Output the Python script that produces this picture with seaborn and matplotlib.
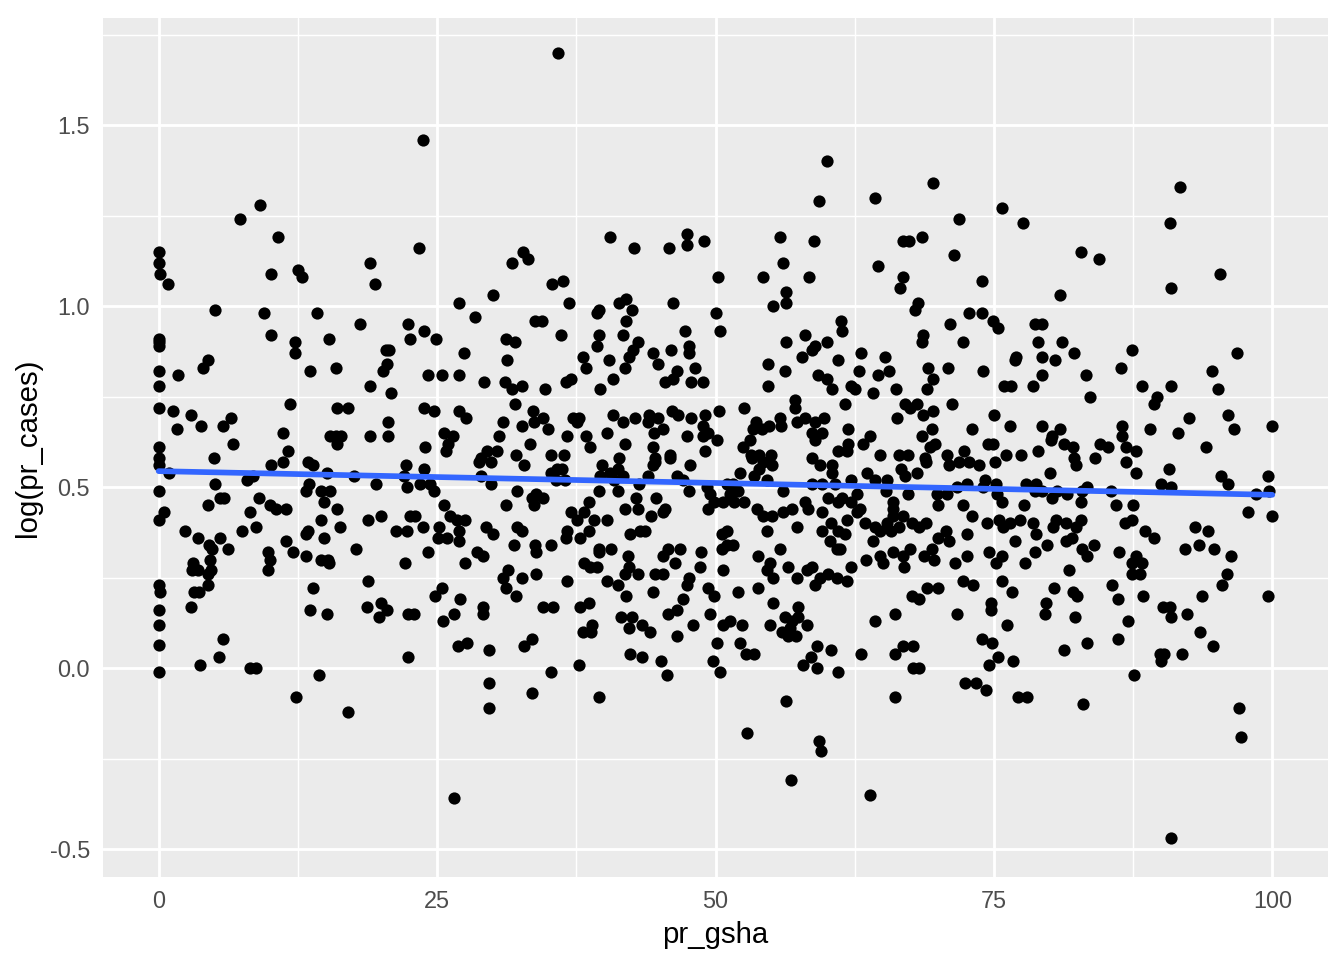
import numpy as np
import matplotlib
matplotlib.use("Agg")
import matplotlib.pyplot as plt
import seaborn as sns
from matplotlib.ticker import MultipleLocator

# (pr_gsha, log(pr_cases)) pairs, grouped by region
pts_a = [(0,1.15),(0,1.12),(0.1,1.09),(0.8,1.06),(5.1,0.99),(7.3,1.24),(9.1,1.28),(10.7,1.19),(10.1,1.09),(12.5,1.10),
         (12.9,1.08),(19.0,1.12),(19.4,1.06),(9.5,0.98),(10.1,0.92),(14.2,0.98),(18.1,0.95),(15.3,0.91),(12.2,0.90),(12.2,0.87),
         (0,0.91),(0,0.90),(0,0.89),(4.4,0.85),(4.0,0.83),(0,0.82),(1.7,0.81),(0,0.78),(13.6,0.82),(15.9,0.83),
         (20.7,0.88),(20.4,0.88),(20.5,0.84),(20.1,0.82),(19.0,0.78),(20.9,0.76),(22.4,0.95),(22.6,0.91),(11.8,0.73),(16.0,0.72),
         (17.0,0.72),(0,0.72),(1.3,0.71),(2.9,0.70),(1.6,0.66),(3.8,0.67),(5.8,0.67),(6.5,0.69),(20.6,0.68),(11.2,0.65),
         (15.4,0.64),(15.9,0.64),(16.4,0.64),(16.0,0.62),(19.0,0.64),(20.6,0.64),(0,0.61),(6.7,0.62),(11.6,0.60)]
pts_b = [(5.0,0.58),(0,0.58),(0,0.56),(0.9,0.54),(11.2,0.57),(10.1,0.56),(13.4,0.57),(13.9,0.56),(15.1,0.54),(17.5,0.53),
         (19.5,0.51),(22.2,0.56),(22.0,0.53),(22.3,0.50),(5.1,0.51),(7.9,0.52),(8.5,0.53),(0,0.49),(13.2,0.49),(13.5,0.51),
         (14.6,0.49),(15.4,0.49),(5.5,0.47),(5.9,0.47),(9.0,0.47),(4.4,0.45),(10.0,0.45),(10.5,0.44),(11.4,0.44),(14.8,0.46),
         (16.0,0.44),(8.2,0.43),(0,0.41),(0.5,0.43),(18.8,0.41),(20.0,0.42),(22.6,0.42),(14.6,0.41),(16.3,0.39),(2.4,0.38),
         (8.7,0.39),(7.5,0.38),(13.2,0.37),(13.4,0.38),(14.8,0.36),(21.3,0.38),(22.3,0.38),(3.5,0.36),(5.5,0.36),(4.5,0.34),
         (4.8,0.33),(6.2,0.33),(11.4,0.35),(12.1,0.32),(13.2,0.31),(17.7,0.33),(9.8,0.32),(10.0,0.30),(9.8,0.27),(14.6,0.30),
         (15.2,0.30),(15.3,0.29),(22.1,0.29),(3.1,0.29),(4.6,0.30),(3.0,0.27),(3.5,0.27),(4.7,0.27),(4.4,0.26),(4.4,0.23),
         (0,0.23),(0.1,0.21),(3.2,0.21),(3.6,0.21),(18.8,0.24),(13.9,0.22),(2.9,0.17),(13.6,0.16),(15.1,0.15),(18.7,0.17),
         (20.0,0.18),(20.5,0.16),(19.8,0.14),(22.4,0.15),(0,0.16),(0,0.12),(0,0.065),(5.8,0.08),(5.4,0.03),(3.7,0.01),
         (8.2,0.0),(8.7,0.0),(0,-0.01),(22.4,0.03),(14.4,-0.02),(12.3,-0.08),(17.0,-0.12)]
pts_c = [(35.9,1.70),(23.7,1.46),(23.4,1.16),(31.7,1.12),(32.7,1.15),(33.2,1.13),(35.3,1.06),(36.3,1.07),(40.5,1.19),(42.7,1.16),
         (45.8,1.16),(47.4,1.20),(47.4,1.17),(49.0,1.18),(50.2,1.08),(27.0,1.01),(30.0,1.03),(28.4,0.97),(36.8,1.01),(33.8,0.96),
         (34.4,0.96),(39.5,0.99),(39.4,0.98),(41.3,1.01),(42.0,1.02),(42.5,0.99),(42.0,0.96),(41.7,0.92),(46.2,1.01),(50.0,0.98),
         (50.4,0.93),(23.8,0.93),(24.9,0.91),(36.1,0.92),(31.2,0.91),(32.0,0.90),(39.5,0.92),(39.4,0.89),(27.4,0.87),(31.3,0.85),
         (38.1,0.86),(38.4,0.83),(40.4,0.85),(43.0,0.90),(42.6,0.88),(42.2,0.86),(41.9,0.83),(44.4,0.87),(44.8,0.84),(46.0,0.88),
         (47.6,0.89),(47.6,0.87),(48.2,0.83),(47.3,0.93),(24.2,0.81),(25.4,0.81),(27.0,0.81),(29.2,0.79),(31.1,0.79),(31.7,0.77),
         (32.6,0.78),(32.0,0.73),(34.7,0.77),(36.6,0.79),(37.0,0.80),(39.6,0.77),(40.8,0.80),(45.5,0.79),(46.5,0.82),(46.2,0.80),
         (47.8,0.79),(48.9,0.79),(23.8,0.72),(24.7,0.71),(27.0,0.71),(27.6,0.69),(30.9,0.68),(30.6,0.64),(32.6,0.67),(33.6,0.71),
         (33.7,0.68),(34.5,0.69),(35.0,0.66),(37.2,0.69),(37.7,0.69),(37.6,0.68),(36.7,0.64),(38.4,0.64),(38.7,0.61),(40.3,0.65),
         (40.8,0.70),(41.7,0.68),(42.8,0.69),(44.0,0.70),(43.9,0.68),(44.8,0.69),(44.5,0.65),(45.3,0.66),(46.1,0.71),(46.6,0.70),
         (47.8,0.69),(49.1,0.70),(48.9,0.67),(48.9,0.64),(49.3,0.65),(50.3,0.71),(50.1,0.63),(25.6,0.65),(26.4,0.64),(26.0,0.62),
         (25.8,0.60),(23.9,0.61),(29.5,0.60),(28.9,0.58),(30.4,0.60),(32.1,0.59),(33.3,0.62),(35.2,0.59),(36.4,0.59),(41.9,0.62),
         (44.4,0.61),(44.6,0.58),(47.4,0.64),(49.1,0.60),(45.9,0.59),(41.3,0.58)]
pts_d = [(28.8,0.57),(29.8,0.57),(32.8,0.56),(35.2,0.54),(35.8,0.55),(36.2,0.55),(35.7,0.52),(36.5,0.52),(39.8,0.56),(39.6,0.53),
         (40.5,0.54),(40.9,0.52),(41.2,0.55),(41.7,0.53),(39.5,0.49),(38.6,0.46),(41.2,0.49),(44.6,0.57),(44.4,0.56),(43.9,0.53),
         (43.1,0.51),(42.9,0.47),(41.9,0.44),(43.0,0.44),(44.7,0.47),(44.2,0.42),(45.3,0.43),(45.5,0.44),(45.9,0.58),(46.5,0.53),
         (47.1,0.52),(47.7,0.56),(47.6,0.49),(49.2,0.50),(49.5,0.48),(49.3,0.44),(49.9,0.46),(28.9,0.53),(29.8,0.51),(32.2,0.49),
         (31.2,0.45),(33.5,0.47),(33.9,0.48),(34.5,0.47),(33.7,0.45),(37.0,0.43),(37.6,0.41),(38.2,0.43),(39.1,0.41),(40.3,0.41),
         (36.7,0.38),(36.6,0.36),(37.8,0.36),(38.6,0.38),(42.3,0.37),(43.2,0.38),(43.7,0.38),(39.5,0.33),(39.5,0.32),(40.6,0.33),
         (42.1,0.31),(42.2,0.28),(41.9,0.26),(43.0,0.26),(38.2,0.29),(38.7,0.28),(39.4,0.28),(45.3,0.31),(45.7,0.33),(46.8,0.33),
         (46.4,0.29),(45.3,0.26),(44.6,0.26),(48.7,0.32),(48.6,0.28),(47.6,0.25),(47.4,0.23),(40.3,0.24),(41.2,0.23),(42.0,0.20),
         (44.4,0.21),(49.3,0.22),(49.9,0.20),(49.5,0.15),(47.1,0.19),(46.5,0.16),(45.7,0.15),(41.5,0.14),(42.5,0.14),(42.2,0.11),
         (43.4,0.12),(44.1,0.10),(48.0,0.12),(46.5,0.09),(50.1,0.07),(42.3,0.04),(43.4,0.03),(45.1,0.02),(45.6,-0.02),(49.8,0.02),
         (50.4,-0.01),(23.8,0.55),(23.5,0.51),(24.4,0.51),(24.7,0.49),(25.6,0.45),(23.0,0.42),(23.7,0.39),(25.2,0.39),(25.1,0.36),
         (25.9,0.36),(27.0,0.35),(26.2,0.42),(26.8,0.41),(27.5,0.41),(27.0,0.38),(29.4,0.39),(30.0,0.37),(31.9,0.34),(32.2,0.39),
         (32.6,0.38),(33.8,0.34),(33.9,0.32),(35.2,0.34),(28.6,0.32),(29.1,0.31),(27.5,0.29),(24.2,0.32),(30.9,0.25),(31.4,0.27),
         (31.2,0.22),(32.6,0.25),(33.9,0.26),(36.7,0.24),(32.1,0.20),(25.4,0.22),(24.8,0.20),(27.1,0.19),(26.5,0.15),(25.5,0.13),
         (29.1,0.17),(29.1,0.15),(34.5,0.17),(35.4,0.17),(37.8,0.17),(38.6,0.18),(38.9,0.12),(38.1,0.10),(38.8,0.10),(22.9,0.15),
         (26.9,0.06),(27.7,0.07),(29.7,0.05),(32.8,0.06),(33.5,0.08),(37.7,0.01),(35.2,-0.01),(29.7,-0.04),(29.7,-0.11),(33.5,-0.07),
         (39.5,-0.08),(26.5,-0.36)]
pts_e = [(60.0,1.40),(59.3,1.29),(64.3,1.30),(69.5,1.34),(75.7,1.27),(77.6,1.23),(71.9,1.24),(55.8,1.19),(58.8,1.18),(56.1,1.12),
         (54.3,1.08),(58.4,1.08),(56.3,1.04),(56.3,1.01),(55.2,1.00),(66.8,1.18),(67.4,1.18),(68.5,1.19),(64.6,1.11),(66.8,1.08),
         (66.6,1.05),(68.2,1.01),(67.9,0.99),(71.4,1.14),(73.9,1.07),(72.8,0.98),(73.9,0.98),(74.9,0.96),(75.4,0.94),(71.1,0.95),
         (61.3,0.96),(61.4,0.93),(58.0,0.92),(58.9,0.89),(58.7,0.88),(57.8,0.86),(60.0,0.90),(56.3,0.90),(68.6,0.92),(68.5,0.90),
         (72.2,0.90),(63.1,0.87),(65.2,0.86),(54.7,0.84),(61.0,0.85),(56.2,0.82),(62.9,0.82),(64.6,0.81),(65.6,0.82),(69.1,0.83),
         (69.5,0.80),(69.0,0.77),(70.9,0.83),(74.0,0.82),(77.0,0.86),(76.9,0.85),(75.9,0.78),(76.5,0.78),(54.7,0.78),(59.2,0.81),
         (60.0,0.80),(60.5,0.77),(62.2,0.78),(62.5,0.77),(64.1,0.76),(66.2,0.77),(61.6,0.73),(57.1,0.74),(57.1,0.72),(52.6,0.72),
         (67.0,0.73),(67.5,0.72),(68.1,0.73),(68.6,0.70),(69.5,0.71),(71.2,0.73),(75.0,0.70),(66.3,0.69),(53.6,0.68),(53.4,0.66),
         (54.2,0.66),(54.8,0.67),(55.8,0.69),(55.9,0.67),(57.3,0.68),(58.0,0.69),(58.9,0.68),(58.7,0.65),(58.9,0.63),(59.7,0.69),
         (59.6,0.65),(61.9,0.66),(63.9,0.64),(63.2,0.62),(53.1,0.63),(52.5,0.61),(61.0,0.60),(61.9,0.62),(61.8,0.60),(68.5,0.64),
         (69.4,0.66),(69.7,0.62),(69.3,0.61),(73.0,0.66),(76.4,0.67),(74.5,0.62),(74.9,0.62),(72.3,0.60),(76.1,0.59),(77.4,0.59),
         (53.2,0.59),(53.9,0.59),(55.0,0.59),(58.7,0.58),(64.8,0.59),(66.5,0.59),(67.3,0.59),(70.8,0.59),(68.8,0.58)]
pts_f = [(53.3,0.58),(55.1,0.56),(54.3,0.57),(53.9,0.55),(53.5,0.53),(52.2,0.54),(54.6,0.52),(51.0,0.51),(51.6,0.51),(51.3,0.48),
         (52.0,0.49),(50.7,0.46),(51.7,0.46),(52.6,0.46),(53.7,0.44),(54.3,0.42),(55.1,0.42),(56.1,0.43),(56.9,0.44),(56.1,0.49),
         (59.4,0.56),(60.5,0.56),(60.5,0.54),(60.7,0.51),(58.7,0.51),(59.6,0.51),(58.0,0.46),(58.3,0.44),(59.6,0.43),(60.1,0.47),
         (61.0,0.46),(61.4,0.47),(62.2,0.46),(62.7,0.48),(62.2,0.52),(63.6,0.54),(64.3,0.52),(66.7,0.55),(67.0,0.53),(68.1,0.54),
         (68.9,0.57),(65.4,0.52),(65.3,0.49),(65.9,0.46),(67.3,0.48),(71.0,0.56),(71.9,0.57),(72.8,0.57),(73.7,0.56),(75.1,0.57),
         (69.9,0.48),(70.8,0.48),(70.0,0.45),(71.7,0.50),(72.6,0.51),(72.2,0.45),(73.0,0.42),(74.2,0.52),(74.0,0.50),(75.2,0.51),
         (75.3,0.48),(75.7,0.46),(77.7,0.45),(77.9,0.51),(60.4,0.40),(59.6,0.38),(61.8,0.41),(62.7,0.43),(63.0,0.44),(63.4,0.40),
         (61.0,0.38),(61.6,0.37),(60.3,0.35),(60.9,0.33),(61.2,0.33),(57.3,0.39),(54.6,0.38),(51.0,0.38),(50.6,0.37),(51.0,0.34),
         (51.6,0.34),(50.6,0.33),(55.8,0.33),(53.8,0.31),(54.9,0.29),(54.6,0.27),(55.2,0.25),(56.5,0.28),(50.7,0.27),(57.3,0.25),
         (58.2,0.27),(58.7,0.28),(59.4,0.25),(58.9,0.23),(60.1,0.26),(60.9,0.25),(61.8,0.24),(62.2,0.28),(63.5,0.30),(64.1,0.35),
         (64.8,0.31),(65.0,0.29),(65.9,0.32),(66.8,0.31),(66.9,0.28),(64.3,0.39),(64.8,0.38),(65.4,0.40),(65.8,0.38),(66.5,0.39),
         (65.9,0.42),(66.8,0.42),(67.6,0.40),(68.3,0.39),(68.9,0.40),(65.9,0.44),(67.5,0.33),(68.7,0.31),(69.4,0.33),(69.6,0.30),
         (70.0,0.36),(70.7,0.38),(71.0,0.35),(71.5,0.29),(72.6,0.31),(72.6,0.37),(72.2,0.24),(73.1,0.23),(74.6,0.32),(75.7,0.31),
         (75.2,0.29),(74.4,0.40),(75.5,0.41),(75.8,0.39),(76.4,0.40),(77.3,0.41),(76.9,0.35),(77.8,0.29),(75.7,0.24),(76.6,0.21),
         (74.7,0.18),(74.7,0.16),(76.2,0.12),(73.9,0.08),(74.8,0.07),(75.4,0.03),(74.6,0.01),(76.7,0.02),(77.2,-0.08),(72.4,-0.04),
         (73.4,-0.04),(74.3,-0.06),(52.0,0.21),(53.8,0.22),(55.2,0.18),(57.4,0.17),(56.2,0.14),(56.9,0.13),(57.4,0.14),(58.2,0.12),
         (56.0,0.10),(56.5,0.09),(57.2,0.09),(56.7,0.11),(54.9,0.12),(50.7,0.12),(51.3,0.13),(52.4,0.12),(52.2,0.07),(52.7,0.04),
         (53.5,0.04),(59.1,0.06),(58.6,0.03),(57.9,0.01),(59.1,0.00),(60.4,0.05),(61.0,-0.01),(63.1,0.04),(64.3,0.13),(66.1,0.15),
         (66.1,0.04),(66.8,0.06),(67.7,0.06),(67.7,0.00),(68.3,0.00),(67.6,0.20),(68.3,0.19),(69.0,0.22),(70.0,0.22),(71.7,0.15),
         (56.3,-0.09),(66.1,-0.08),(52.8,-0.18),(59.3,-0.20),(59.5,-0.23),(56.8,-0.31),(63.9,-0.35),(78.0,-0.08)]
pts_g = [(91.7,1.33),(90.8,1.23),(90.9,1.05),(95.3,1.09),(82.8,1.15),(84.4,1.13),(80.9,1.03),(78.7,0.95),(79.3,0.95),(79.0,0.90),
         (81.1,0.90),(82.2,0.87),(79.3,0.86),(80.5,0.85),(87.4,0.88),(96.8,0.87),(79.3,0.81),(78.5,0.78),(83.3,0.81),(86.4,0.83),
         (94.6,0.82),(83.6,0.75),(88.3,0.78),(90.9,0.78),(89.6,0.75),(89.4,0.73),(95.1,0.77),(96.0,0.70),(96.6,0.66),(100.0,0.67),
         (92.5,0.69),(91.5,0.65),(89.0,0.66),(86.5,0.67),(86.5,0.64),(79.3,0.67),(80.9,0.66),(80.2,0.64),(81.3,0.62),(82.1,0.61),
         (84.5,0.62),(85.2,0.61),(86.9,0.61),(87.8,0.60),(94.0,0.61),(79.0,0.60),(82.2,0.58),(84.1,0.58)]
pts_h = [(80.1,0.63),(86.9,0.57),(82.4,0.56),(90.7,0.55),(87.8,0.54),(95.4,0.53),(96.0,0.51),(99.6,0.53),(99.7,0.49),(98.5,0.48),
         (97.8,0.43),(100.0,0.42),(90.0,0.51),(90.9,0.50),(80.0,0.54),(78.8,0.51),(78.7,0.49),(79.3,0.49),(80.7,0.49),(81.6,0.48),
         (80.2,0.47),(82.9,0.49),(83.4,0.50),(82.8,0.46),(85.5,0.49),(86.0,0.45),(87.5,0.45),(86.8,0.40),(87.4,0.41),(88.6,0.38),
         (89.4,0.36),(93.1,0.39),(94.2,0.38),(92.2,0.33),(93.4,0.34),(94.8,0.33),(96.3,0.31),(78.5,0.40),(78.8,0.37),(80.3,0.39),
         (80.6,0.41),(81.5,0.40),(82.4,0.39),(82.8,0.41),(78.7,0.32),(79.8,0.34),(81.5,0.35),(82.0,0.36),(82.9,0.33),(83.4,0.31),
         (84.0,0.34),(86.2,0.32),(87.8,0.31),(87.4,0.29),(88.3,0.29),(87.4,0.26),(88.1,0.26),(81.7,0.27),(95.9,0.26),(95.5,0.23),
         (85.6,0.23),(80.4,0.22),(82.1,0.21),(82.5,0.20),(86.1,0.19),(88.4,0.20),(93.7,0.20),(99.6,0.20),(79.7,0.18),(79.6,0.15),
         (90.2,0.17),(90.8,0.17),(90.9,0.14),(92.3,0.15),(82.3,0.14),(87.0,0.13),(93.5,0.10),(94.7,0.06),(86.1,0.08),(83.4,0.07),
         (81.3,0.05),(89.9,0.04),(90.3,0.04),(90.0,0.02),(91.9,0.04),(87.6,-0.02),(83.0,-0.10),(97.0,-0.11),(97.2,-0.19),(90.9,-0.47)]

x_ticks = [0, 25, 50, 75, 100]
y_ticks = [-0.5, 0.0, 0.5, 1.0, 1.5]
y_tick_labels = ["-0.5", "0.0", "0.5", "1.0", "1.5"]

pts = np.array(pts_a + pts_b + pts_c + pts_d + pts_e + pts_f + pts_g + pts_h)
pr_gsha = pts[:, 0]
log_cases = pts[:, 1]

sns.set_theme(style="darkgrid", rc={
    "axes.facecolor": "#EBEBEB",
    "grid.color": "white",
    "axes.edgecolor": "#EBEBEB",
    "axes.linewidth": 0,
})
plt.rcParams["font.family"] = ["Liberation Sans", "DejaVu Sans"]

fig = plt.figure(figsize=(7, 5), dpi=192)
ax = fig.add_axes([103 / 1344, 1 - 877 / 960, (1328 - 103) / 1344, (877 - 18) / 960])

sns.scatterplot(x=pr_gsha, y=log_cases, color="black", s=21, linewidth=0, ax=ax, zorder=3)
sns.regplot(x=pr_gsha, y=log_cases, scatter=False, ci=None, color="#3366FF",
            line_kws={"linewidth": 2.13, "zorder": 4}, ax=ax)

ax.set_xlim(-5, 105)
ax.set_ylim(-0.577, 1.796)
ax.set_xticks(x_ticks)
ax.set_xticklabels([str(t) for t in x_ticks])
ax.set_yticks(y_ticks)
ax.set_yticklabels(y_tick_labels)
ax.xaxis.set_minor_locator(MultipleLocator(12.5))
ax.yaxis.set_minor_locator(MultipleLocator(0.25))
ax.grid(which="major", color="white", linewidth=1.07)
ax.grid(which="minor", color="white", linewidth=0.53)
ax.set_axisbelow(True)
for s in ax.spines.values():
    s.set_visible(False)

ax.tick_params(axis="both", which="major", length=2.75, width=1.07, color="#333333",
               labelcolor="#4D4D4D", labelsize=8.8, pad=2.2)
ax.tick_params(axis="both", which="minor", length=0)
ax.set_xlabel("pr_gsha", fontsize=11, color="black", labelpad=2.75)
ax.set_ylabel("log(pr_cases)", fontsize=11, color="black", labelpad=2.75)

fig.savefig("out.png", dpi=192, facecolor="white")
